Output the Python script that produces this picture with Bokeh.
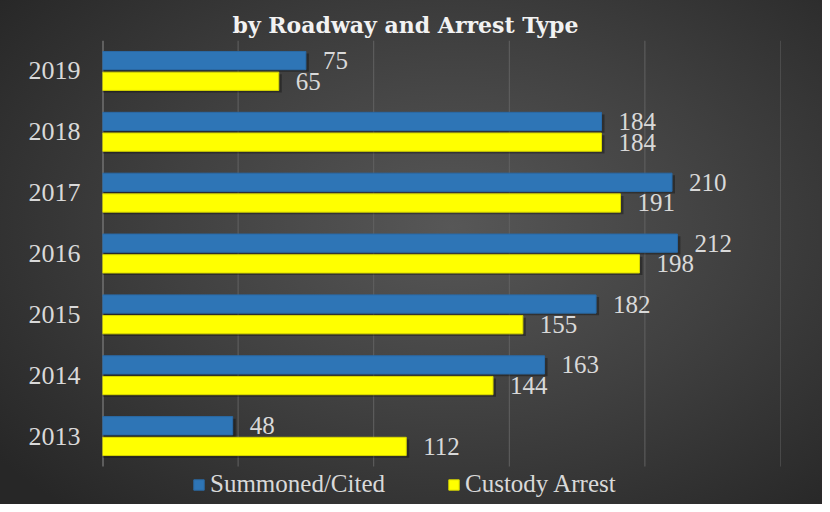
from bokeh.plotting import figure
from bokeh.models import ColumnDataSource, Range1d, FixedTicker, Legend, LegendItem, Title
from bokeh.transform import dodge
from bokeh.core.properties import value
from bokeh.embed import file_html
from bokeh.resources import INLINE

years = ["2013", "2014", "2015", "2016", "2017", "2018", "2019"]
summoned = [48, 163, 182, 212, 210, 184, 75]
custody = [112, 144, 155, 198, 191, 184, 65]
grid_ticks = [50, 100, 150, 200, 250]
title_text = "by Roadway and Arrest Type"
series_names = ["Summoned/Cited", "Custody Arrest"]

pos = list(range(len(years)))
src = ColumnDataSource(dict(
    pos=pos, year=years, summoned=summoned, custody=custody,
    summoned_lbl=[str(v) for v in summoned],
    custody_lbl=[str(v) for v in custody],
))

FONT = "Liberation Serif"
LBL = "#d9d9d9"

n = len(years)
p = figure(width=822, height=504, output_backend="svg", toolbar_location=None,
           y_range=Range1d(-1.124, n - 0.5), x_range=Range1d(0, 250),
           min_border_left=102, min_border_right=42, min_border_top=40, min_border_bottom=0)
p.styles = {"background": "radial-gradient(ellipse 70% 75% at 55% 45%, #575757 0%, #404040 50%, #272727 100%)"}
p.border_fill_color = None
p.background_fill_color = None
p.outline_line_color = None

p.add_layout(Title(text=title_text, align="left", offset=130,
                   text_font="DejaVu Serif", text_font_style="bold",
                   text_font_size="22px", text_color="#f2f2f2", standoff=6), "above")

# vertical grid lines and axis line (span the category band only)
p.segment(x0=grid_ticks, x1=grid_ticks, y0=-0.5, y1=n - 0.5, line_color="#626262", line_width=1)
p.segment(x0=[0], x1=[0], y0=-0.5, y1=n - 0.5, line_color="#8c8c8c", line_width=2)

# shadows
p.hbar(y=dodge("pos", 0.135), right=dodge("summoned", 1.1), left=0, height=0.3,
       source=src, fill_color="black", fill_alpha=0.33, line_color=None)
p.hbar(y=dodge("pos", -0.205), right=dodge("custody", 1.1), left=0, height=0.3,
       source=src, fill_color="black", fill_alpha=0.33, line_color=None)

r1 = p.hbar(y=dodge("pos", 0.17), right="summoned", left=0, height=0.3,
            source=src, fill_color="#2E75B6", line_color="#2a6aa6", line_width=1)
r2 = p.hbar(y=dodge("pos", -0.17), right="custody", left=0, height=0.3,
            source=src, fill_color="#FFFF00", line_color="#d8d800", line_width=1)

p.text(x="summoned", y=dodge("pos", 0.17), text="summoned_lbl", source=src,
       x_offset=17, text_baseline="middle", text_align="left",
       text_font=value(FONT), text_font_size="25px", text_color=LBL)
p.text(x="custody", y=dodge("pos", -0.17), text="custody_lbl", source=src,
       x_offset=17, text_baseline="middle", text_align="left",
       text_font=value(FONT), text_font_size="25px", text_color=LBL)

p.xaxis.visible = False
p.xgrid.grid_line_color = None
p.ygrid.grid_line_color = None

ax = p.yaxis[0]
ax.ticker = FixedTicker(ticks=pos)
ax.major_label_overrides = {i: y for i, y in zip(pos, years)}
ax.axis_line_color = None
ax.major_tick_line_color = None
ax.minor_tick_line_color = None
ax.major_label_standoff = 16
ax.major_label_text_font = FONT
ax.major_label_text_font_size = "26px"
ax.major_label_text_color = LBL

legend = Legend(items=[LegendItem(label=series_names[0], renderers=[r1]),
                       LegendItem(label=series_names[1], renderers=[r2])],
                orientation="horizontal", location=(90, 6),
                background_fill_alpha=0, border_line_color=None,
                label_text_font=FONT, label_text_font_size="25px", label_text_color=LBL,
                glyph_width=13, glyph_height=13, label_standoff=5, spacing=62,
                padding=0, margin=0, label_height=25)
p.add_layout(legend, "center")

open("out.html", "w").write(file_html(p, INLINE))
